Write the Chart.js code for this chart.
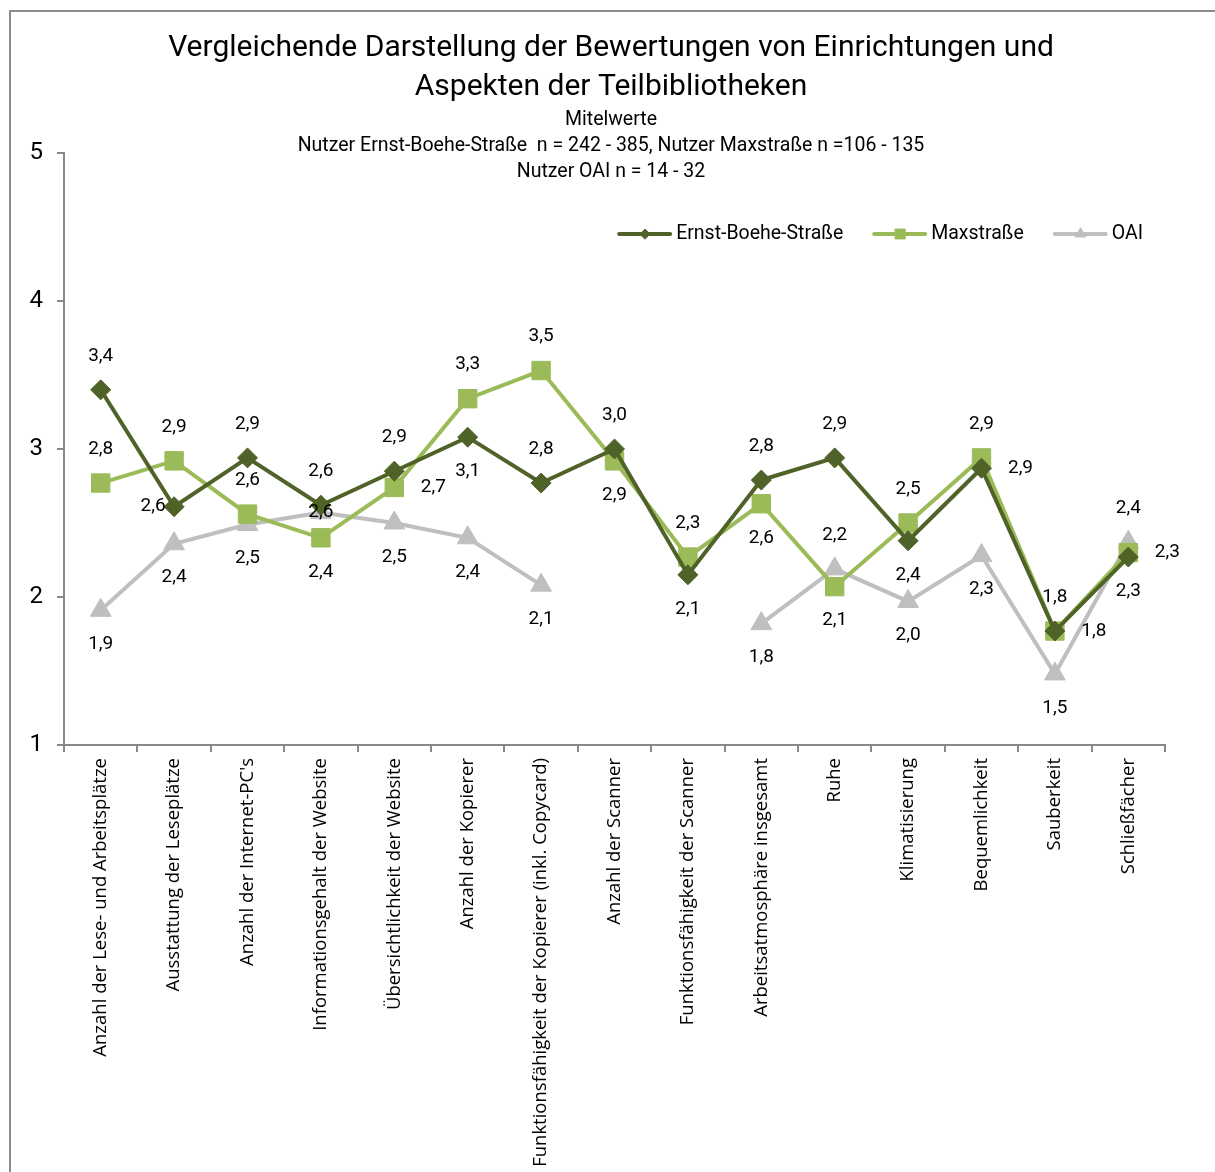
<!DOCTYPE html>
<html>
<head>
<meta charset="utf-8">
<script src="https://cdn.jsdelivr.net/npm/chart.js@4.4.0/dist/chart.umd.min.js"></script>
<style>
  body { margin: 0; background: #fff; }
  #wrap { width: 1215px; height: 1172px; }
</style>
</head>
<body>
<div id="wrap"><canvas id="myChart" width="1215" height="1172"></canvas></div>
<script>
// Kategorien
const categories = [
  "Anzahl der Lese- und Arbeitsplätze",
  "Ausstattung der Leseplätze",
  "Anzahl der Internet-PC's",
  "Informationsgehalt der Website",
  "Übersichtlichkeit der Website",
  "Anzahl der Kopierer",
  "Funktionsfähigkeit der Kopierer (inkl. Copycard)",
  "Anzahl der Scanner",
  "Funktionsfähigkeit der Scanner",
  "Arbeitsatmosphäre insgesamt",
  "Ruhe",
  "Klimatisierung",
  "Bequemlichkeit",
  "Sauberkeit",
  "Schließfächer"
];

// Mittelwerte
const ernstBoehe = [3.40, 2.61, 2.94, 2.62, 2.85, 3.08, 2.77, 3.00, 2.15, 2.79, 2.94, 2.38, 2.87, 1.77, 2.27];
const maxstrasse = [2.77, 2.92, 2.56, 2.40, 2.74, 3.34, 3.53, 2.92, 2.27, 2.63, 2.07, 2.50, 2.94, 1.77, 2.30];
const oai = [1.91, 2.36, 2.49, 2.57, 2.50, 2.40, 2.08, null, null, 1.82, 2.19, 1.97, 2.28, 1.48, 2.37];

const yTicks = [1, 2, 3, 4, 5];

// wo die Werte-Beschriftung sitzt: a = oben, b = unten, l = links, r = rechts, c = mittig
const labelSideErnst = ['a','l','a','a','a','b','a','a','b','a','a','b','r','r','b'];
const labelSideMax   = ['a','a','a','b','r','a','a','b','a','b','b','a','a','a','r'];
const labelSideOai   = ['b','b','b','c','b','b','b','b','b','b','a','b','b','b','a'];

const titleLines = ["Vergleichende Darstellung der Bewertungen von Einrichtungen und", "Aspekten der Teilbibliotheken"];
const subLines = ["Mitelwerte", "Nutzer Ernst-Boehe-Straße  n = 242 - 385, Nutzer Maxstraße n =106 - 135", "Nutzer OAI n = 14 - 32"];

const textFont = "Roboto, 'Liberation Sans', sans-serif";
const axisFont = "'Open Sans', sans-serif";

const frameAndTitle = {
  id: 'frameAndTitle',
  beforeDraw(chart) {
    const ctx = chart.ctx;
    ctx.save();
    ctx.fillStyle = '#fff';
    ctx.fillRect(0, 0, chart.width, chart.height);
    ctx.strokeStyle = '#8c8c8c';
    ctx.lineWidth = 2;
    ctx.beginPath();
    ctx.moveTo(10, chart.height + 5);
    ctx.lineTo(10, 11);
    ctx.lineTo(chart.width + 5, 11);
    ctx.stroke();

    ctx.fillStyle = '#000';
    ctx.textAlign = 'center';
    ctx.textBaseline = 'middle';
    ctx.font = "30px " + textFont;
    ctx.fillText(titleLines[0], 611, 48);
    ctx.fillText(titleLines[1], 611, 87);
    ctx.font = "19.5px " + textFont;
    ctx.fillText(subLines[0], 611, 120);
    ctx.fillText(subLines[1], 611, 146);
    ctx.fillText(subLines[2], 611, 172);
    ctx.restore();
  }
};

const valueLabels = {
  id: 'valueLabels',
  afterDatasetsDraw(chart) {
    const ctx = chart.ctx;
    const sides = [labelSideErnst, labelSideMax, labelSideOai];
    ctx.save();
    ctx.font = "19px " + textFont;
    ctx.fillStyle = '#000';
    ctx.textAlign = 'center';
    ctx.textBaseline = 'middle';
    chart.data.datasets.forEach((ds, di) => {
      const meta = chart.getDatasetMeta(di);
      meta.data.forEach((pt, i) => {
        const v = ds.data[i];
        if (v === null) return;
        let dx = 0, dy = 0;
        const s = sides[di][i];
        if (s === 'a') dy = -34;
        if (s === 'b') dy = 34;
        if (s === 'l') dx = -21;
        if (s === 'r') dx = 39;
        ctx.fillText(v.toFixed(1).replace('.', ','), pt.x + dx, pt.y + dy);
      });
    });
    ctx.restore();
  }
};

// Legende mit Linie und Marker, oben rechts im Diagramm
const lineLegend = {
  id: 'lineLegend',
  afterDraw(chart) {
    const ctx = chart.ctx;
    ctx.save();
    ctx.font = "19.5px " + textFont;
    ctx.textBaseline = 'middle';
    ctx.textAlign = 'left';
    const y = 234;
    const items = chart.data.datasets;
    let total = 0;
    items.forEach((ds, i) => {
      total += 59 + ctx.measureText(ds.label).width + (i < items.length - 1 ? 29 : 0);
    });
    let x = 1143 - total;
    items.forEach(ds => {
      ctx.strokeStyle = ds.borderColor;
      ctx.fillStyle = ds.borderColor;
      ctx.lineWidth = 4;
      ctx.lineCap = 'round';
      ctx.beginPath();
      ctx.moveTo(x + 2, y);
      ctx.lineTo(x + 53, y);
      ctx.stroke();
      ctx.lineWidth = 1;
      Chart.helpers.drawPoint(ctx, {
        pointStyle: ds.pointStyle, radius: ds.legendRadius, rotation: 0, borderWidth: 1
      }, x + 28, y);
      ctx.fillStyle = '#000';
      ctx.fillText(ds.label, x + 59, y);
      x += 59 + ctx.measureText(ds.label).width + 29;
    });
    ctx.restore();
  }
};

const ctx = document.getElementById('myChart').getContext('2d');
const myChart = new Chart(ctx, {
  type: 'line',
  data: {
    labels: categories,
    datasets: [
      {
        label: "Ernst-Boehe-Straße",
        data: ernstBoehe,
        borderColor: "#4f6228",
        backgroundColor: "#4f6228",
        borderWidth: 4,
        pointStyle: 'rectRot',
        pointRadius: 10,
        legendRadius: 5,
        pointBorderWidth: 1
      },
      {
        label: "Maxstraße",
        data: maxstrasse,
        borderColor: "#9bbb59",
        backgroundColor: "#9bbb59",
        borderWidth: 4,
        pointStyle: 'rect',
        pointRadius: 13,
        legendRadius: 7,
        pointBorderWidth: 1
      },
      {
        label: "OAI",
        data: oai,
        borderColor: "#bfbfbf",
        backgroundColor: "#bfbfbf",
        borderWidth: 4,
        pointStyle: 'triangle',
        pointRadius: 12,
        legendRadius: 6,
        pointBorderWidth: 1,
        spanGaps: false
      }
    ]
  },
  options: {
    responsive: false,
    animation: false,
    layout: { padding: { top: 153, right: 50, left: 0, bottom: 0 } },
    plugins: {
      legend: { display: false },
      title: { display: false },
      tooltip: { enabled: false }
    },
    scales: {
      x: {
        offset: true,
        afterFit: (scale) => { scale.height = 427; },
        grid: { offset: true, drawOnChartArea: false, drawTicks: true, tickLength: 7, color: '#898989', lineWidth: 2 },
        border: { color: '#898989', width: 2 },
        ticks: {
          autoSkip: false,
          minRotation: 90,
          maxRotation: 90,
          padding: 6,
          color: '#000',
          font: { family: axisFont, size: 18.5 }
        }
      },
      y: {
        min: 1,
        max: 5,
        afterFit: (scale) => { scale.width = 64; },
        afterBuildTicks: (scale) => { scale.ticks = yTicks.map(v => ({ value: v })); },
        grid: { drawOnChartArea: false, drawTicks: true, tickLength: 7, color: '#898989', lineWidth: 2 },
        border: { color: '#898989', width: 2 },
        ticks: {
          padding: 14,
          color: '#000',
          font: { family: textFont, size: 24 }
        }
      }
    }
  },
  plugins: [frameAndTitle, valueLabels, lineLegend]
});
</script>
</body>
</html>
